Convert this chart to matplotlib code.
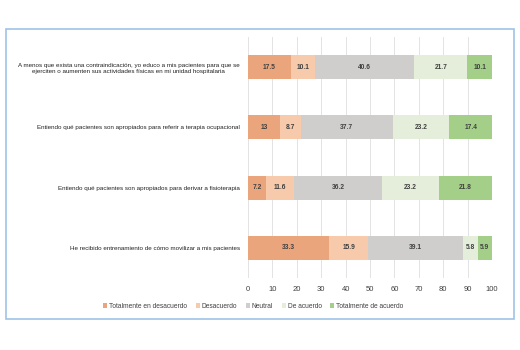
import matplotlib
matplotlib.use("Agg")
import matplotlib.pyplot as plt
from matplotlib.patches import Rectangle, Patch
import numpy as np

categories = [
    "A menos que exista una contraindicación, yo educo a mis pacientes para que se\nejerciten o aumenten sus actividades físicas en mi unidad hospitalaria",
    "Entiendo qué pacientes son apropiados para referir a terapia ocupacional",
    "Entiendo qué pacientes son apropiados para derivar a fisioterapia",
    "He recibido entrenamiento de cómo movilizar a mis pacientes",
]
series_names = ["Totalmente en desacuerdo", "Desacuerdo", "Neutral", "De acuerdo", "Totalmente de acuerdo"]
total_desacuerdo = [17.5, 13, 7.2, 33.3]
desacuerdo = [10.1, 8.7, 11.6, 15.9]
neutral = [40.6, 37.7, 36.2, 39.1]
de_acuerdo = [21.7, 23.2, 23.2, 5.8]
total_acuerdo = [10.1, 17.4, 21.8, 5.9]
value_labels = [
    ["17.5", "13", "7.2", "33.3"],
    ["10.1", "8.7", "11.6", "15.9"],
    ["40.6", "37.7", "36.2", "39.1"],
    ["21.7", "23.2", "23.2", "5.8"],
    ["10.1", "17.4", "21.8", "5.9"],
]
xticks = [0, 10, 20, 30, 40, 50, 60, 70, 80, 90, 100]

colors = ["#EAA57C", "#F6CAAB", "#D0CECD", "#E4EEDA", "#A3CF88"]

plt.rcParams['font.family'] = ['Liberation Sans Narrow', 'Liberation Sans', 'DejaVu Sans']

fig = plt.figure(figsize=(5.2, 3.5), dpi=100)
fig.patch.set_facecolor("white")
ax = fig.add_axes([0.477, 0.206, 0.469, 0.688])

series = [total_desacuerdo, desacuerdo, neutral, de_acuerdo, total_acuerdo]
y = np.arange(len(categories))
left = np.zeros(len(categories))
for i, vals in enumerate(series):
    vals = np.array(vals)
    ax.barh(y, vals, left=left, height=0.4, color=colors[i], edgecolor="none", zorder=2, label=series_names[i])
    for j, v in enumerate(vals):
        ax.text(left[j] + v / 2, y[j], value_labels[i][j], ha="center", va="center",
                fontsize=4.8, color="#404040", fontweight="bold", zorder=3)
    left += vals

ax.set_ylim(len(categories) - 0.5, -0.5)
ax.set_xlim(0, 100)
ax.set_xticks(xticks)
ax.set_xticklabels([str(t) for t in xticks], fontsize=5.5, color="#404040")
ax.set_yticks(y)
ax.set_yticklabels(categories, fontsize=4.5, color="#222222", multialignment="center")
ax.tick_params(axis="both", length=0, pad=6)
ax.tick_params(axis="y", pad=6)
ax.xaxis.grid(True, color="#E3E3E3", linewidth=0.7, zorder=0)
ax.set_axisbelow(True)
for s in ax.spines.values():
    s.set_visible(False)

handles = [Patch(facecolor=c, edgecolor="none") for c in colors]
fig.legend(handles, series_names, loc="center", bbox_to_anchor=(0.487, 0.125), ncol=5,
           frameon=False, fontsize=4.8, handlelength=0.6, handleheight=0.6,
           handletextpad=0.3, columnspacing=1.3, labelcolor="#404040")

fig.patches.append(Rectangle((0.012, 0.089), 0.976, 0.828, transform=fig.transFigure,
                             fill=False, edgecolor="#9DC3E6", linewidth=1.2))

fig.savefig("out.png", dpi=100, facecolor="white")
